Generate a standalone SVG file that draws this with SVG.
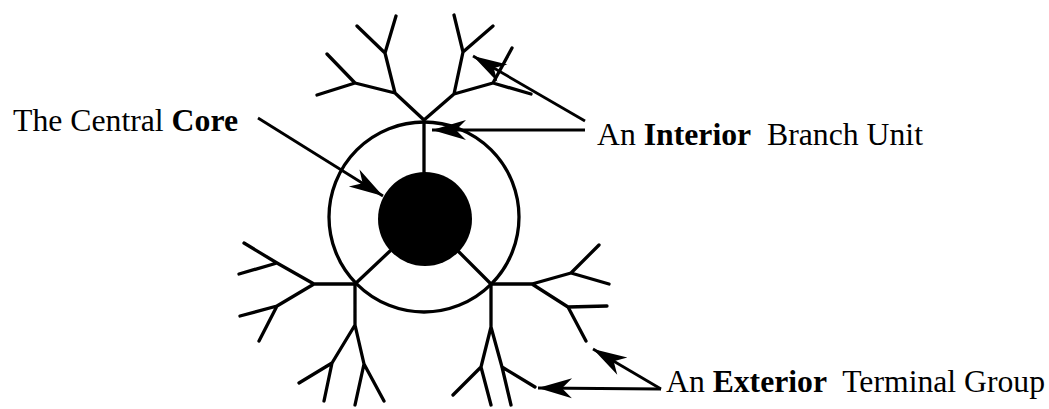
<svg xmlns="http://www.w3.org/2000/svg" width="1049" height="409" viewBox="0 0 1049 409">
<style>
.br{fill:none;stroke:#000;stroke-width:3.3;stroke-linecap:round;stroke-linejoin:round}
.ar{fill:none;stroke:#000;stroke-width:2.8}
.t{font-family:"Liberation Serif","Times New Roman",serif;font-size:32px;fill:#000}
.b{font-weight:bold}
</style>
<defs>
<marker id="ah" markerUnits="userSpaceOnUse" markerWidth="40" markerHeight="24" viewBox="-34 -12 36 24" refX="0" refY="0" orient="auto">
<path d="M0,0 L-34,-10 L-24,0 L-34,10 Z" fill="#000"/>
</marker>
</defs>
<rect width="1049" height="409" fill="#fff"/>
<g id="core">
<circle cx="424" cy="217" r="95" class="br"/>
<circle cx="425" cy="219" r="47" fill="#000"/>
</g>
<g id="top-tree">
<path class="br" d="M424,172 L424,120 M424,120 L395,93 M424,120 L454,94
M395,93 L385,53 M395,93 L355,83 M385,53 L396,16 M385,53 L357,26 M355,83 L327,54 M355,83 L317,95
M454,94 L463,52 M454,94 L493,83 M463,52 L454,15 M463,52 L493,26 M493,83 L512,48 M493,83 L531,94"/>
</g>
<g id="left-tree">
<path class="br" d="M390,251 L355,284 M355,284 L314,284 M314,284 L277,263 M314,284 L277,306
M277,263 L244,243 M277,263 L239,274 M277,306 L240,316 M277,306 L259,341
M355,284 L355,325 M355,325 L332,363 M355,325 L364,364 M332,363 L299,383 M332,363 L324,401 M364,364 L355,405 M364,364 L384,401"/>
</g>
<g id="right-tree">
<path class="br" d="M458,251 L491,284 M491,284 L532,284 M532,284 L571,273 M532,284 L568,307
M571,273 L599,245 M571,273 L609,284 M568,307 L607,306 M568,307 L586,341
M491,284 L491,327 M491,327 L481,367 M491,327 L502,367 M481,367 L453,395 M481,367 L491,405 M502,367 L535,387 M502,367 L511,405"/>
</g>
<g id="connectors">
<line class="ar" x1="258" y1="118" x2="383" y2="196" marker-end="url(#ah)"/>
<line class="ar" x1="585" y1="121" x2="473" y2="56" marker-end="url(#ah)"/>
<line class="ar" x1="585" y1="130" x2="432" y2="130" marker-end="url(#ah)"/>
<line class="ar" x1="661" y1="389" x2="538" y2="388" marker-end="url(#ah)"/>
<line class="ar" x1="661" y1="389" x2="593" y2="349" marker-end="url(#ah)"/>
</g>
<g id="labels">
<text class="t" x="13" y="131" textLength="225" lengthAdjust="spacingAndGlyphs">The Central <tspan class="b">Core</tspan></text>
<text class="t" x="597" y="145" textLength="326" lengthAdjust="spacingAndGlyphs" xml:space="preserve">An <tspan class="b">Interior</tspan>  Branch Unit</text>
<text class="t" x="666" y="392" textLength="379" lengthAdjust="spacingAndGlyphs" xml:space="preserve">An <tspan class="b">Exterior</tspan>  Terminal Group</text>
</g>
</svg>
